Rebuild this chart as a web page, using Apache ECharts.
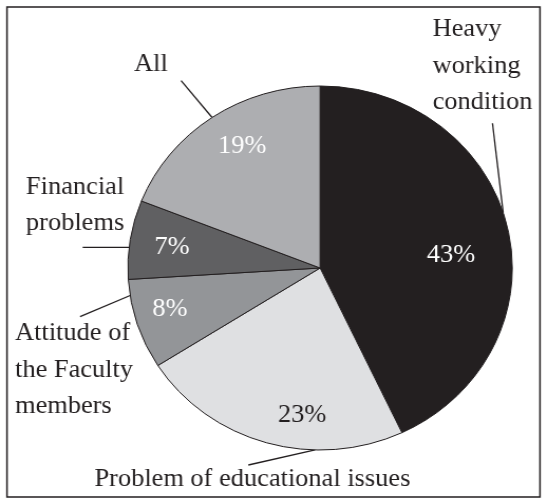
<!DOCTYPE html>
<html>
<head>
<meta charset="utf-8">
<script src="https://cdn.jsdelivr.net/npm/echarts@6/dist/echarts.min.js"></script>
<style>
  html, body { margin: 0; padding: 0; background: #ffffff; overflow: hidden; }
  #chart { width: 519px; height: 504px; transform: scaleX(1.0559); transform-origin: 0 0; }
</style>
</head>
<body>
<div id="chart"></div>
<script>
// ---- data ----
const categories = [
  'Heavy\nworking\ncondition',
  'Problem of educational issues',
  'Attitude of\nthe Faculty\nmembers',
  'Financial\nproblems',
  'All'
];
const values = [43, 23, 8, 7, 19];

// ---- styling / layout ----
const sliceColors = ['#231f20', '#dfe0e2', '#939598', '#606062', '#adaeb1'];
const innerTextColors = ['#ffffff', '#231f20', '#ffffff', '#ffffff', '#ffffff'];
const CX = 303.15, CY = 268, R = 182;
const FONT = "'Liberation Serif', 'Times New Roman', serif";

// inner percent label centres
const innerPos = [[427.2, 255], [286.1, 415], [161, 309], [163, 247.5], [229.3, 146]];
// outer label anchor: x, y(centre of block), align; leader edge angle (deg) and outer end
const outerLayout = [
  { x: 409.7, y: 66, align: 'left', edge: 17.7, end: [466.4, 123.3] },
  { x: 89.4, y: 479, align: 'left', edge: -91.5, end: [235.2, 465] },
  { x: 14.2, y: 370, align: 'left', edge: 188.7, end: [75.8, 316.7] },
  { x: 24.6, y: 205.5, align: 'left', edge: 173.5, end: [78.3, 247.3] },
  { x: 143, y: 64, align: 'center', edge: 124.2, end: [171.5, 80.7] }
];

function edgePoint(deg) {
  const a = deg * Math.PI / 180;
  return [CX + R * Math.cos(a), CY - R * Math.sin(a)];
}

const chart = echarts.init(document.getElementById('chart'), null, { renderer: 'canvas' });

const pieData = categories.map((c, i) => ({
  name: c,
  value: values[i],
  itemStyle: { color: sliceColors[i] },
  label: { color: innerTextColors[i] }
}));

const ghostData = categories.map((c, i) => ({ name: c, value: values[i] }));

chart.setOption({
  animation: false,
  backgroundColor: '#ffffff',
  graphic: [{
    type: 'rect',
    shape: { x: 6.6, y: 7, width: 504.8, height: 490 },
    style: { fill: 'none', stroke: '#231f20', lineWidth: 1.5 },
    silent: true,
    z: 100
  }],
  series: [
    {
      type: 'pie',
      center: [CX, CY],
      radius: R,
      startAngle: 90,
      clockwise: true,
      avoidLabelOverlap: false,
      silent: true,
      itemStyle: { borderColor: '#231f20', borderWidth: 1 },
      label: {
        show: true,
        position: 'inside',
        formatter: p => p.value + '%',
        fontFamily: FONT,
        fontSize: 25
      },
      labelLine: { show: false },
      labelLayout: p => ({
        x: innerPos[p.dataIndex][0],
        y: innerPos[p.dataIndex][1],
        align: 'center',
        verticalAlign: 'middle'
      }),
      data: pieData
    },
    {
      type: 'pie',
      center: [CX, CY],
      radius: R,
      startAngle: 90,
      clockwise: true,
      avoidLabelOverlap: false,
      silent: true,
      itemStyle: { color: 'rgba(0,0,0,0)', borderWidth: 0 },
      label: {
        show: true,
        position: 'outside',
        formatter: '{b}',
        color: '#231f20',
        fontFamily: FONT,
        fontSize: 25,
        lineHeight: 36.5
      },
      labelLine: {
        show: true,
        length: 20,
        length2: 10,
        lineStyle: { color: '#231f20', width: 1.3 }
      },
      labelLayout: p => {
        const L = outerLayout[p.dataIndex];
        return {
          x: L.x,
          y: L.y,
          align: L.align,
          verticalAlign: 'middle',
          labelLinePoints: [edgePoint(L.edge), L.end, L.end]
        };
      },
      data: ghostData
    }
  ]
});
</script>
</body>
</html>
